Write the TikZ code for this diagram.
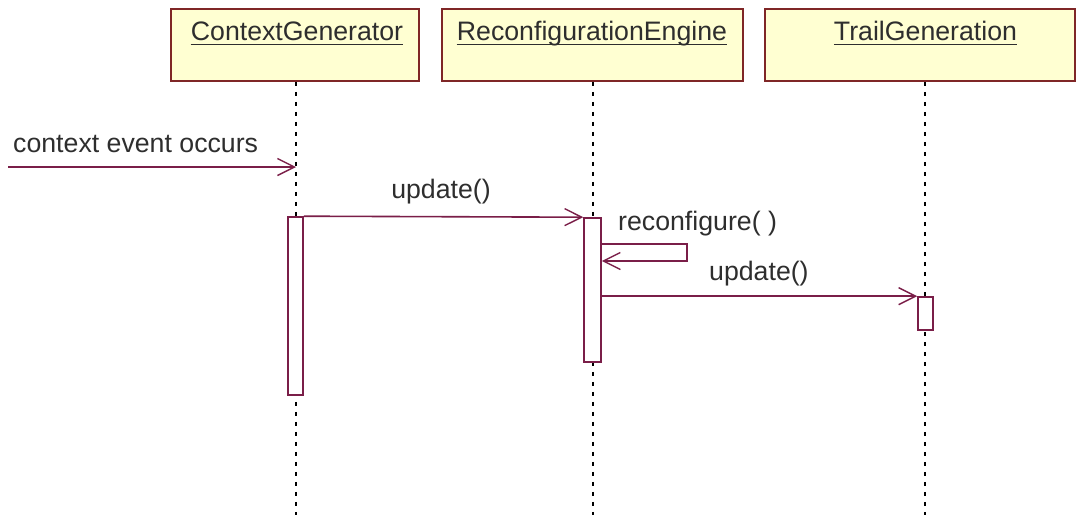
\documentclass[tikz,border=0pt]{standalone}
\usepackage{fontspec}
\setmainfont{Liberation Sans}
\usetikzlibrary{arrows.meta}

\definecolor{msgline}{HTML}{7A1E48}
\definecolor{boxedge}{HTML}{7F2626}
\definecolor{boxfill}{HTML}{FFFFD2}
\definecolor{labeltext}{HTML}{2E2E2E}

\begin{document}
\begin{tikzpicture}[x=1pt, y=-1pt,
  objbox/.style={draw=boxedge, fill=boxfill, line width=1.6pt,
    minimum height=72pt, inner sep=0pt},
  objname/.style={font=\fontsize{26.7}{30}\selectfont, text=labeltext,
    anchor=base, inner sep=0pt},
  nameline/.style={draw=labeltext, line width=1.6pt},
  lifeline/.style={line width=1.9pt, dash pattern=on 4.5pt off 5.5pt},
  actbox/.style={draw=msgline, fill=white, line width=1.6pt, inner sep=0pt},
  msg/.style={draw=msgline, line width=1.6pt,
    -{Straight Barb[length=17pt, width=17pt, line width=1.4pt]}},
  msglabel/.style={font=\fontsize{26.7}{30}\selectfont, text=labeltext,
    inner sep=0pt}]

  % page
  \fill[white] (0,0) rectangle (1079,515);
  \useasboundingbox (0,0) rectangle (1079,515);

  % object headers
  \node[objbox, minimum width=248pt] (cg) at (295,45) {};
  \node[objbox, minimum width=301pt] (re) at (592.5,45) {};
  \node[objbox, minimum width=310pt] (tg) at (920,45) {};

  \node[objname] (cgname) at (297,40) {ContextGenerator};
  \node[objname] (rename) at (592,40) {ReconfigurationEngine};
  \node[objname] (tgname) at (925.5,40) {TrailGeneration};

  \foreach \n in {cgname, rename, tgname}
    \draw[nameline] ([yshift=-4.5pt]\n.base west) -- ([yshift=-4.5pt]\n.base east);

  % lifelines
  \coordinate (cgend) at (296,515);
  \coordinate (reend) at (593,515);
  \coordinate (tgend) at (925,515);
  \draw[lifeline] (cgend |- cg.south) -- (cgend);
  \draw[lifeline] (reend |- re.south) -- (reend);
  \draw[lifeline] (tgend |- tg.south) -- (tgend);

  % activations
  \node[actbox, minimum width=15pt, minimum height=178pt] (cgact) at (295.5,306) {};
  \node[actbox, minimum width=17pt, minimum height=144pt] (react) at (592.5,290) {};
  \node[actbox, minimum width=15pt, minimum height=33pt] (tgact) at (925.5,313.5) {};

  % messages
  \coordinate (src) at (8,167);
  \draw[msg] (src) -- (src -| cgend);
  \draw[msg] (cgact.north east) -- (react.north west);
  \coordinate (loopa) at (687,244);
  \coordinate (loopb) at (687,261);
  \draw[msg] (loopa -| react.east) -- (loopa) -- (loopb) -- (loopb -| react.east);
  \draw[msg] (react.east |- tgact.north) -- (tgact.north west);

  % message labels
  \node[msglabel, anchor=base west] (lctx) at (13,152) {context event occurs};
  \node[msglabel, anchor=base] (lupd1) at (441,198) {update()};
  \node[msglabel, anchor=base west] (lrec) at (618,230) {reconfigure( )};
  \node[msglabel, anchor=base west] (lupd2) at (709,280) {update()};
\end{tikzpicture}
\end{document}
